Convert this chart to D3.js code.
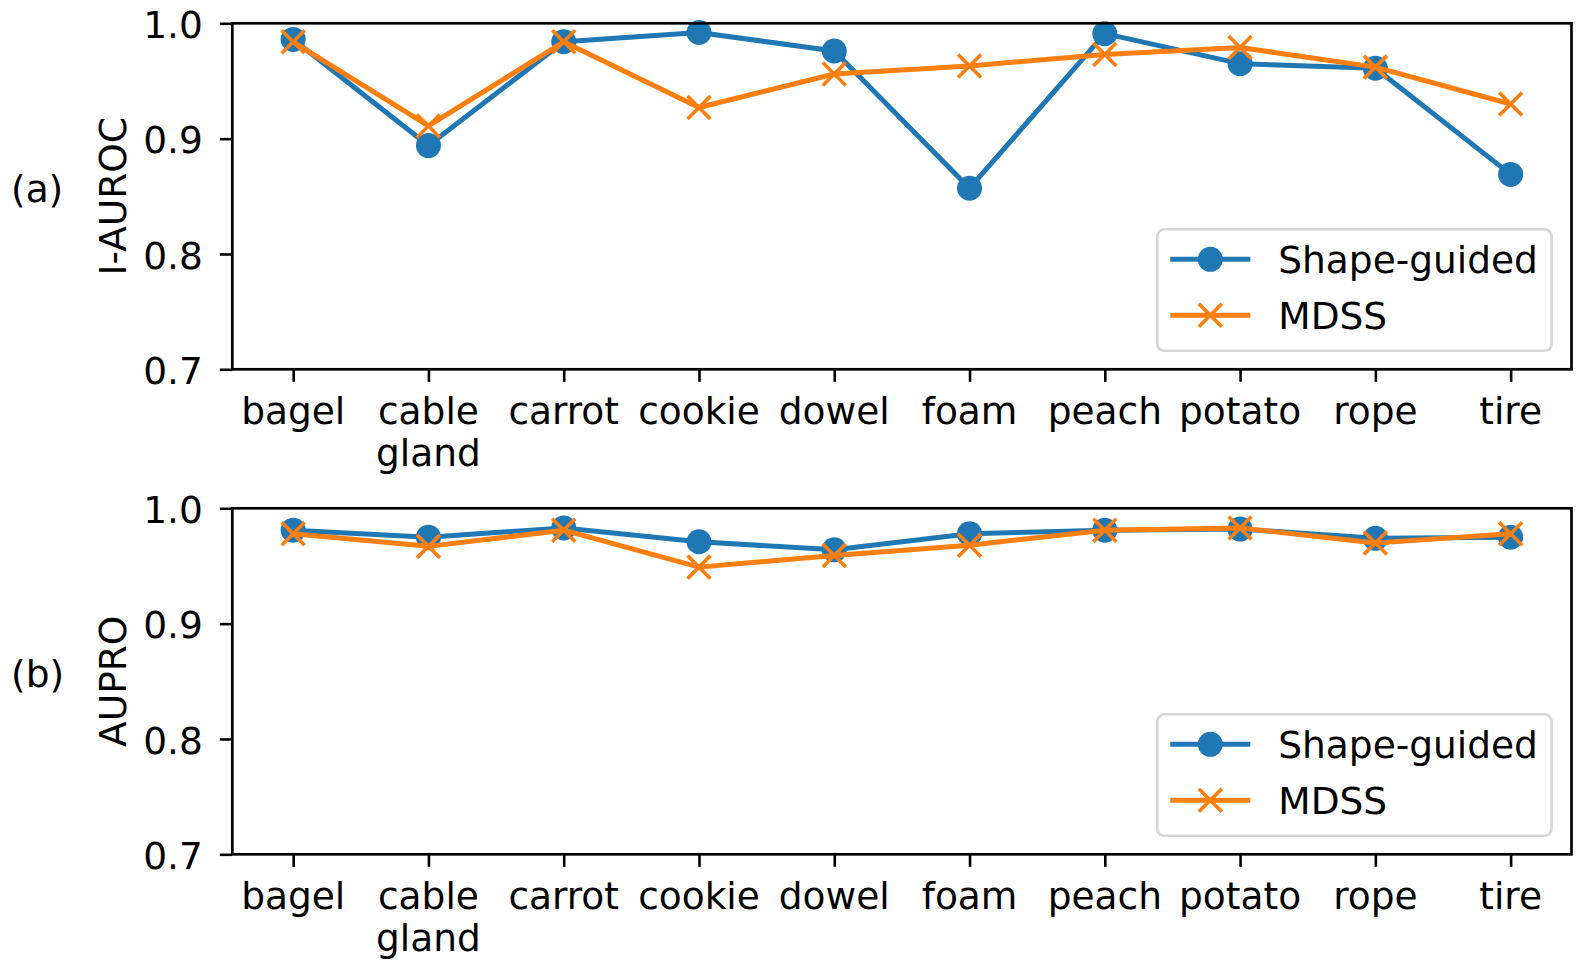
<!DOCTYPE html>
<html>
<head>
<meta charset="utf-8">
<script src="https://cdn.jsdelivr.net/npm/d3@7"></script>
<style>
html,body{margin:0;padding:0;background:#fff;}
svg{display:block;font-family:"DejaVu Sans",sans-serif;}
</style>
</head>
<body>
<svg id="chart" width="1578" height="963"></svg>
<script>
const categories = ["bagel", "cable\ngland", "carrot", "cookie", "dowel", "foam", "peach", "potato", "rope", "tire"];
const seriesNames = ["Shape-guided", "MDSS"];
const aurocShape = [0.986, 0.894, 0.984, 0.992, 0.976, 0.857, 0.991, 0.965, 0.961, 0.869];
const aurocMDSS  = [0.984, 0.911, 0.984, 0.927, 0.956, 0.963, 0.973, 0.979, 0.962, 0.930];
const auproShape = [0.981, 0.975, 0.983, 0.971, 0.964, 0.978, 0.981, 0.982, 0.974, 0.975];
const auproMDSS  = [0.978, 0.967, 0.981, 0.949, 0.959, 0.968, 0.981, 0.983, 0.970, 0.978];
const yTicks = [0.7, 0.8, 0.9, 1.0];

const panels = [
  {tag: "(a)", ylabel: "I-AUROC", top: 23.3, shape: aurocShape, mdss: aurocMDSS, tagY: 202},
  {tag: "(b)", ylabel: "AUPRO", top: 508.3, shape: auproShape, mdss: auproMDSS, tagY: 687}
];

const svg = d3.select("#chart");
const left = 232.3, right = 1571.5, height = 346;
const blue = "#1f77b4", orange = "#ff7f0e";
const FS = 37.5;

const x = d3.scalePoint().domain(d3.range(categories.length)).range([left, right]).padding(0.45);

function xMarker(g, cx, cy, s) {
  g.append("path")
    .attr("d", `M${cx - s},${cy - s}L${cx + s},${cy + s}M${cx - s},${cy + s}L${cx + s},${cy - s}`)
    .attr("stroke", orange).attr("stroke-width", 3.6).attr("fill", "none");
}

panels.forEach(p => {
  const y = d3.scaleLinear().domain([0.7, 1.0]).range([p.top + height, p.top]);
  const g = svg.append("g");

  // y axis
  const ya = g.append("g").attr("transform", `translate(${left},0)`)
    .call(d3.axisLeft(y).tickValues(yTicks).tickFormat(d3.format(".1f")).tickSize(12.5).tickPadding(17));
  ya.select(".domain").remove();
  ya.selectAll(".tick line").attr("stroke", "#000").attr("stroke-width", 2.6);
  ya.selectAll(".tick text").attr("font-size", FS).attr("fill", "#000")
    .attr("font-family", "DejaVu Sans").attr("dy", "0.38em");

  // x axis
  const xa = g.append("g").attr("transform", `translate(0,${p.top + height})`)
    .call(d3.axisBottom(x).tickSize(12.5).tickFormat(""));
  xa.select(".domain").remove();
  xa.selectAll(".tick line").attr("stroke", "#000").attr("stroke-width", 2.6);
  categories.forEach((c, i) => {
    const t = g.append("text").attr("x", x(i)).attr("y", p.top + height + 55)
      .attr("text-anchor", "middle").attr("font-size", FS).attr("fill", "#000");
    c.split("\n").forEach((line, k) => {
      t.append("tspan").attr("x", x(i)).attr("dy", k === 0 ? 0 : 42).text(line);
    });
  });

  // lines
  const line = d3.line().x((d, i) => x(i)).y(d => y(d));
  g.append("path").datum(p.shape).attr("d", line).attr("fill", "none")
    .attr("stroke", blue).attr("stroke-width", 5).attr("stroke-linejoin", "round");
  p.shape.forEach((v, i) => {
    g.append("circle").attr("cx", x(i)).attr("cy", y(v)).attr("r", 12.5).attr("fill", blue);
  });
  g.append("path").datum(p.mdss).attr("d", line).attr("fill", "none")
    .attr("stroke", orange).attr("stroke-width", 5).attr("stroke-linejoin", "round");
  p.mdss.forEach((v, i) => xMarker(g, x(i), y(v), 11.5));

  // frame
  g.append("rect").attr("x", left).attr("y", p.top).attr("width", right - left).attr("height", height)
    .attr("fill", "none").attr("stroke", "#000").attr("stroke-width", 2.7);

  // y label
  g.append("text").attr("transform", `translate(126,${p.top + height / 2}) rotate(-90)`)
    .attr("text-anchor", "middle").attr("font-size", FS).attr("fill", "#000").text(p.ylabel);
  // tag
  g.append("text").attr("x", 11).attr("y", p.tagY).attr("font-size", FS).attr("fill", "#000").text(p.tag);

  // legend
  const lx = 1157.3, lw = 394.3, lh = 121.5, ly = p.top + height - 18.5 - lh;
  const lg = g.append("g");
  lg.append("rect").attr("x", lx).attr("y", ly).attr("width", lw).attr("height", lh)
    .attr("rx", 7).attr("fill", "#fff").attr("fill-opacity", 0.8)
    .attr("stroke", "#d6d6d6").attr("stroke-width", 2.6);
  seriesNames.forEach((name, k) => {
    const ry = ly + 30 + k * 56;
    const col = k === 0 ? blue : orange;
    lg.append("line").attr("x1", lx + 13).attr("x2", lx + 93).attr("y1", ry).attr("y2", ry)
      .attr("stroke", col).attr("stroke-width", 5);
    if (k === 0) lg.append("circle").attr("cx", lx + 53).attr("cy", ry).attr("r", 12.5).attr("fill", blue);
    else xMarker(lg, lx + 53, ry, 11.5);
    lg.append("text").attr("x", lx + 121).attr("y", ry).attr("dy", "0.36em")
      .attr("font-size", FS).attr("fill", "#000").text(name);
  });
});
</script>
</body>
</html>
